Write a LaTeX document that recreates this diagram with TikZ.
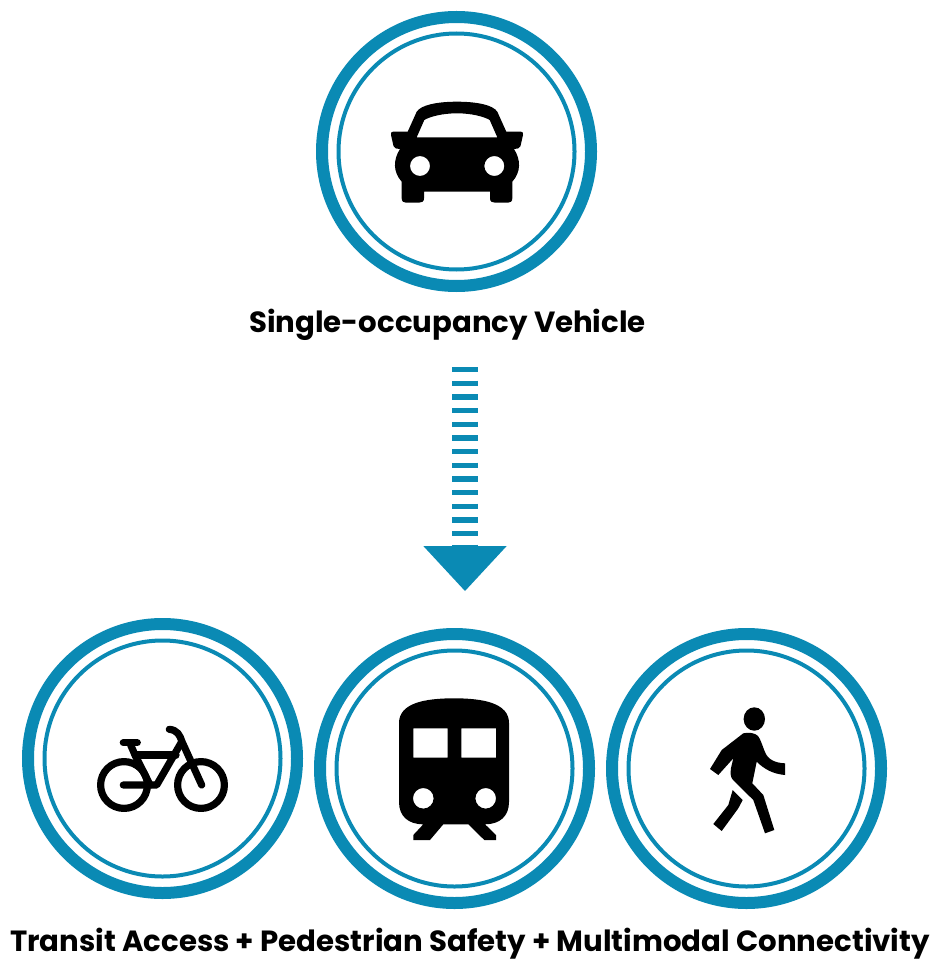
\documentclass[tikz,border=0pt]{standalone}
\usepackage{fontspec}
\setmainfont{Poppins}
\definecolor{ringblue}{HTML}{0A8AB4}
\tikzset{
  outerring/.style={circle,draw=ringblue,line width=12,inner sep=0,outer sep=0,minimum size=269},
  innerring/.style={circle,draw=ringblue,line width=4,inner sep=0,outer sep=0,minimum size=236},
  caption/.style={font=\bfseries\fontsize{29.2}{34}\selectfont,inner sep=0,anchor=base},
  rungs/.style={draw=ringblue,line width=26.6,dash pattern=on 5.3 off 8.37},
  bikeline/.style={line width=7.2,line cap=round,line join=round}
}
\begin{document}
\begin{tikzpicture}[x=1pt,y=-1pt]
  \useasboundingbox (0,0) rectangle (934,960);
  \foreach \name/\cx/\cy in {car/456.5/151.5,bike/162.5/758.5,train/454.5/768.5,walker/746.5/768.5}{
    \node[outerring] (\name) at (\cx,\cy) {};
    \node[innerring] (\name inner) at (\cx,\cy) {};
  }
  \node[caption] (carlabel) at (447.5,332) {Single-occupancy Vehicle};
  \node[caption] (modeslabel) at (470,951) {Transit Access + Pedestrian Safety + Multimodal Connectivity};
  % arrow
  \coordinate (arrowtop) at (465,367);
  \coordinate (arrowbase) at (465,546);
  \coordinate (arrowtip) at (465,591);
  \draw[rungs] (arrowtop) -- (arrowbase);
  \fill[ringblue] (arrowtip) -- ([xshift=-41.7]arrowbase) -- ([xshift=41.7]arrowbase) -- cycle;
  % car
  \fill[even odd rule] (407.7,131.7) -- (416.7,111.7)
    .. controls (421,105) and (437,101.7) .. (457,101.7)
    .. controls (477,101.7) and (493,105) .. (497.3,111.7)
    -- (506.3,131.7) -- (521,131.7) .. controls (523,131.7) and (523.3,133) .. (523,135)
    -- (520.5,146) .. controls (520,148.5) and (517,149) .. (514,149)
    .. controls (521,160) and (521,172) .. (512.3,181.7)
    -- (512.3,198.3) .. controls (512.3,201.5) and (510.5,202.7) .. (508,202.7)
    -- (495,202.7) .. controls (492,202.7) and (490,201.5) .. (490,198.3) -- (490,191.7)
    -- (424,191.7) -- (424,198.3) .. controls (424,201.5) and (422,202.7) .. (419,202.7)
    -- (406,202.7) .. controls (403.5,202.7) and (401.7,201.5) .. (401.7,198.3)
    -- (401.7,181.7) .. controls (393,172) and (393,160) .. (400,149)
    .. controls (397,149) and (394,148.5) .. (393.5,146)
    -- (391,135) .. controls (390.7,133) and (391,131.7) .. (393,131.7) -- cycle
    (416.7,137.3) -- (424.3,120) .. controls (430,116.5) and (443,113.3) .. (457,113.3)
    .. controls (471,113.3) and (484,116.5) .. (489.7,120) -- (497.3,137.3) -- cycle
    (420,166) circle (10) (494.3,166) circle (10);
  % bike
  \begin{scope}[bikeline]
    \draw (124,785) circle (23.4);
    \draw (201,785) circle (23.4);
    \draw (123.3,742.7) -- (137.3,742.7);
    \draw (130.7,745) -- (135,755) -- (150,785);
    \draw (135,755) -- (176,755);
    \draw (123.3,785) -- (156.7,785) -- (181,743);
    \draw (169.3,729.3) .. controls (177,730) and (180,735) .. (182,741.7) -- (201.7,785);
  \end{scope}
  % train
  \fill[even odd rule] (399,723) .. controls (399,703) and (425,698.3) .. (454,698.3)
    .. controls (483,698.3) and (509,703) .. (509,723) -- (509,802)
    .. controls (509,816) and (500,824.3) .. (485,824.3) -- (496,835) -- (496,840) -- (484.3,840)
    -- (468.3,824.3) -- (443.3,824.3) -- (430,840) -- (413.3,840) -- (413.3,835) -- (423.3,824.3)
    .. controls (408,824.3) and (399,816) .. (399,802) -- cycle
    (413.3,728.3) rectangle (447.7,757.7) (461.3,728.3) rectangle (496,757.7)
    (423.3,798.3) circle (10.3) (485.7,798.3) circle (10.3);
  % walker
  \fill (754.3,719) ellipse (10.7 and 11.7);
  \fill (743.3,733.3) .. controls (749,732) and (755,733) .. (758,736)
    .. controls (761,740) and (762,745) .. (765,752)
    .. controls (768,760) and (776,763) .. (785,763.3) -- (785,775)
    .. controls (773,774) and (764,769) .. (756.7,761.7)
    -- (752.3,783.3) -- (763.3,795) -- (774.3,830) -- (765,833.3) -- (753.3,800)
    -- (733,780) .. controls (730,777) and (730.5,772) .. (731,768) -- (733.3,758.3)
    -- (718.3,775) -- (710,769) -- (721.7,750) -- cycle;
  \fill (732.7,790) -- (742.7,800) -- (738.3,808.3) -- (721.7,831) -- (713.3,824) -- (728.3,805) -- cycle;
\end{tikzpicture}
\end{document}
